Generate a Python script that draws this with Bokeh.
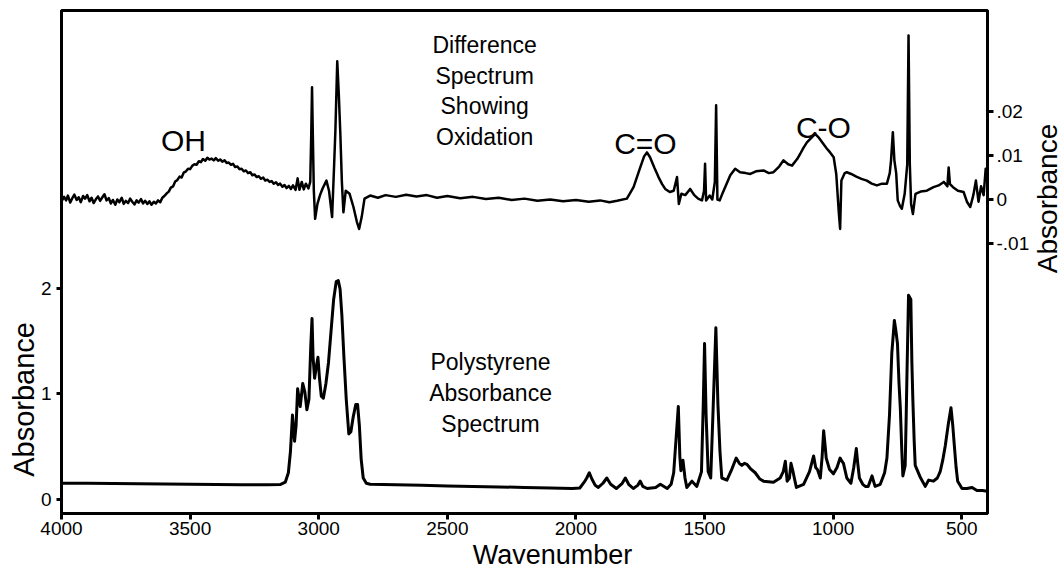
from bokeh.plotting import figure
from bokeh.models import Range1d, LinearAxis, FixedTicker, CustomJSTickFormatter, Label
from bokeh.embed import file_html
from bokeh.resources import INLINE
import math

# ---- data ----
poly_wn = [4000, 3900, 3800, 3700, 3600, 3500, 3400, 3300, 3200, 3150, 3130, 3118, 3110, 3102, 3094,
           3088, 3082, 3072, 3062, 3054, 3046, 3038, 3031, 3026, 3022, 3016, 3010, 3003, 2997, 2990,
           2982, 2972, 2962, 2952, 2942, 2932, 2924, 2917, 2910, 2902, 2893, 2883, 2875, 2866, 2856,
           2849, 2842, 2835, 2827, 2815, 2800, 2700, 2600, 2500, 2400, 2300, 2200, 2100, 2014, 1985,
           1968, 1958, 1948, 1938, 1925, 1913, 1895, 1880, 1865, 1843, 1820, 1808, 1795, 1777, 1760,
           1750, 1740, 1723, 1690, 1672, 1645, 1630, 1620, 1610, 1602, 1596, 1592, 1584, 1576, 1569,
           1549, 1530, 1512, 1505, 1500, 1494, 1486, 1476, 1466, 1456, 1448, 1440, 1433, 1413, 1393,
           1377, 1365, 1355, 1345, 1335, 1322, 1303, 1285, 1271, 1232, 1206, 1194, 1186, 1179, 1170,
           1164, 1156, 1151, 1143, 1115, 1092, 1076, 1068, 1061, 1050, 1043, 1037, 1031, 1027, 1014,
           999, 985, 973, 966, 960, 947, 931, 920, 910, 904, 898, 885, 875, 864, 849,
           842, 837, 817, 800, 791, 781, 772, 762, 756, 750, 744, 739, 733, 729, 720,
           716, 713, 707, 698, 694, 690, 685, 681, 662, 642, 629, 610, 595, 584, 574,
           564, 552, 542, 535, 529, 522, 516, 499, 480, 460, 441, 420, 400]
poly_abs = [0.15, 0.15, 0.148, 0.145, 0.142, 0.14, 0.138, 0.136, 0.135, 0.138, 0.16, 0.25, 0.45, 0.8, 0.55,
            0.7, 1.05, 0.88, 1.1, 1.02, 0.85, 0.95, 1.45, 1.72, 1.35, 1.15, 1.25, 1.35, 1.15, 0.98,
            0.96, 1.1, 1.3, 1.6, 1.9, 2.07, 2.08, 2.0, 1.75, 1.35, 0.95, 0.62, 0.64, 0.78, 0.9,
            0.9, 0.7, 0.38, 0.2, 0.15, 0.14, 0.135, 0.13, 0.125, 0.12, 0.115, 0.11, 0.105, 0.1, 0.105,
            0.16, 0.2, 0.25, 0.19, 0.13, 0.11, 0.15, 0.2, 0.14, 0.1, 0.15, 0.2, 0.14, 0.1, 0.13,
            0.17, 0.12, 0.1, 0.11, 0.14, 0.1, 0.14, 0.25, 0.6, 0.88, 0.4, 0.27, 0.37, 0.2, 0.11,
            0.17, 0.12, 0.26, 0.9, 1.48, 0.8, 0.26, 0.2, 0.91, 1.63, 0.9, 0.45, 0.2, 0.18, 0.29,
            0.39, 0.34, 0.32, 0.34, 0.33, 0.29, 0.25, 0.19, 0.17, 0.16, 0.2, 0.26, 0.36, 0.17, 0.2,
            0.34, 0.26, 0.2, 0.11, 0.14, 0.26, 0.41, 0.3, 0.28, 0.2, 0.4, 0.65, 0.5, 0.39, 0.28,
            0.24, 0.3, 0.39, 0.36, 0.34, 0.2, 0.15, 0.3, 0.48, 0.33, 0.2, 0.14, 0.12, 0.12, 0.22,
            0.16, 0.12, 0.14, 0.25, 0.39, 0.8, 1.39, 1.7, 1.6, 1.48, 1.1, 0.87, 0.45, 0.22, 0.32,
            0.8, 1.2, 1.94, 1.9, 1.3, 0.93, 0.55, 0.32, 0.21, 0.12, 0.18, 0.17, 0.2, 0.26, 0.37,
            0.51, 0.72, 0.87, 0.7, 0.51, 0.3, 0.17, 0.1, 0.1, 0.11, 0.08, 0.08, 0.075]

diff_wn = [4000, 3990, 3982, 3975, 3966, 3958, 3950, 3941, 3933, 3925, 3916, 3908, 3900, 3891, 3883,
           3875, 3866, 3858, 3850, 3841, 3833, 3825, 3816, 3808, 3800, 3791, 3783, 3775, 3766, 3758,
           3750, 3741, 3733, 3725, 3716, 3708, 3700, 3691, 3683, 3675, 3666, 3658, 3650, 3641, 3633,
           3625, 3616, 3608, 3600, 3591, 3583, 3575, 3566, 3558, 3550, 3541, 3533, 3525, 3516, 3508,
           3500, 3491, 3483, 3475, 3466, 3458, 3450, 3441, 3433, 3425, 3416, 3408, 3400, 3391, 3383,
           3375, 3366, 3358, 3350, 3341, 3333, 3325, 3316, 3308, 3300, 3291, 3283, 3275, 3266, 3258,
           3250, 3241, 3233, 3225, 3216, 3208, 3200, 3191, 3183, 3175, 3166, 3158, 3150, 3141, 3133,
           3125, 3116, 3108, 3100, 3090,
           3082, 3075, 3066, 3058, 3050, 3040, 3033, 3029, 3026, 3023, 3019, 3014, 3005,
           2995, 2985, 2970, 2960, 2948, 2940, 2935, 2928, 2922, 2916, 2910, 2904, 2895, 2880, 2865,
           2852, 2843, 2833, 2822, 2800, 2770, 2740, 2700, 2660, 2620, 2580, 2540, 2500, 2450, 2400,
           2350, 2300, 2250, 2200, 2150, 2100, 2050, 2000, 1950, 1906, 1870, 1840, 1802, 1776, 1750,
           1735, 1724, 1712, 1695, 1679, 1665, 1653, 1635, 1620, 1607, 1600, 1590, 1575, 1556, 1540,
           1525, 1510, 1502, 1498, 1494, 1480, 1470, 1460, 1455, 1450, 1441, 1433, 1420, 1400, 1381,
           1362, 1340, 1322, 1300, 1271, 1250, 1232, 1210, 1193, 1175, 1160, 1140, 1128, 1115, 1102,
           1085, 1070, 1055, 1040, 1025, 1012, 998, 988, 978, 973, 968, 955, 947, 930, 910,
           890, 869, 850, 830, 810, 791, 780, 775, 768, 762, 755, 749, 740, 733, 722,
           712, 707, 702, 697, 690, 680, 660, 636, 610, 590, 570, 556, 551, 546, 534,
           515, 493, 480, 467, 455, 445, 435, 425, 415, 407, 402, 400]
diff_abs = [-0.0004, 0.0006, -0.0002, 0.0009, -0.0007, 0.0003, 0.0011, -0.0001, 0.0005, -0.0006, 0.0008, 0.0002, 0.001, -0.0004, 0.0004,
            -0.0008, 0.0001, 0.0007, -0.0003, 0.0005, 0.0012, -0.0002, 0.0003, -0.0009, -0.0001, -0.0012, 0.0, -0.0006, 0.0004, -0.001,
            -0.0003, -0.0008, 0.0002, -0.0005, -0.0011, -0.0002, -0.0007, 0.0001, -0.0009, -0.0003, -0.001, -0.0004, -0.0012, -0.0005, -0.0009,
            -0.0002, -0.0006, 0.0004, 0.0008, 0.0014, 0.0018, 0.0027, 0.003, 0.0041, 0.0044, 0.0052, 0.005, 0.0061, 0.0064, 0.007,
            0.0069, 0.0077, 0.008, 0.0079, 0.0087, 0.0085, 0.0092, 0.0088, 0.0095, 0.0091, 0.0093, 0.0089, 0.0094, 0.0088, 0.0091,
            0.0086, 0.0089, 0.0083, 0.0084, 0.0079, 0.0081, 0.0074, 0.0075, 0.0069, 0.007, 0.0064, 0.0066, 0.006, 0.0062, 0.0055,
            0.0057, 0.0051, 0.0053, 0.0047, 0.005, 0.0043, 0.0045, 0.004, 0.0042, 0.0036, 0.0039, 0.0033, 0.0036, 0.0029, 0.0033,
            0.0026, 0.0031, 0.0024, 0.0032, 0.0022,
            0.0048, 0.0022, 0.004, 0.0023, 0.0036, 0.0025, 0.004, 0.015, 0.0255, 0.015, 0.002, -0.0044, -0.001,
            0.001, 0.0025, 0.0043, 0.002, -0.004, 0.008, 0.016, 0.0314, 0.024, 0.015, 0.004, -0.0029, 0.002, 0.0013, -0.0017,
            -0.005, -0.0067, -0.004, 0.0002, 0.0009, 0.0004, 0.001, 0.0006, 0.0011, 0.0007, 0.001, 0.0004, 0.0008, 0.0003, 0.0006,
            0.0001, 0.0004, -0.0001, 0.0002, -0.0003, 0.0, -0.0004, -0.0001, -0.0005, -0.0002, -0.0006, -0.0003, 0.0002, 0.0028, 0.0073,
            0.0098, 0.0107, 0.0096, 0.0072, 0.0051, 0.0035, 0.0024, 0.0017, 0.002, 0.0051, -0.001, 0.0013, 0.001, 0.0024, 0.001,
            0.0002, -0.0002, 0.002, 0.0081, -0.0002, 0.0009, 0.0, 0.004, 0.0214, 0.0, -0.0002, 0.001, 0.0028, 0.0055, 0.007,
            0.0062, 0.006, 0.0058, 0.0064, 0.0066, 0.006, 0.0062, 0.0075, 0.0089, 0.008, 0.0077, 0.0092, 0.0104, 0.0118, 0.013,
            0.014, 0.0149, 0.014, 0.0128, 0.0116, 0.0107, 0.0096, 0.0058, -0.003, -0.0067, 0.0043, 0.006, 0.0062, 0.0058, 0.0052,
            0.0047, 0.0043, 0.0036, 0.0032, 0.0036, 0.0036, 0.006, 0.0089, 0.0153, 0.0089, 0.006, -0.0002, -0.0015, -0.0021, 0.0013,
            0.008, 0.0373, 0.008, -0.001, -0.0033, 0.0013, 0.0018, 0.002, 0.0028, 0.0032, 0.004, 0.003, 0.0073, 0.0035, 0.0028,
            0.002, 0.0017, -0.0005, -0.0017, 0.001, 0.0043, -0.0005, 0.003, 0.001, 0.007, 0.0045, 0.008]

x_ticks = [4000, 3500, 3000, 2500, 2000, 1500, 1000, 500]
left_ticks = [0, 1, 2]
right_ticks = [-0.01, 0, 0.01, 0.02]

FONT = "Liberation Sans"

p = figure(width=1063, height=571, output_backend="svg", toolbar_location=None, title=None,
           x_range=Range1d(4000, 400), y_range=Range1d(-0.138, 4.652),
           min_border_left=61, min_border_right=76, min_border_top=10, min_border_bottom=58)
p.extra_y_ranges = {"diff": Range1d(-0.07136, 0.042955)}
p.xgrid.visible = False
p.ygrid.visible = False
p.outline_line_color = "black"
p.outline_line_width = 3
p.outline_line_alpha = 1.0
p.background_fill_color = "white"
p.border_fill_color = "white"


def style(ax):
    ax.axis_line_width = 3
    ax.axis_line_color = "black"
    ax.major_tick_line_width = 3
    ax.major_tick_line_color = "black"
    ax.minor_tick_line_color = None
    ax.major_tick_in = 0
    ax.major_label_text_font = FONT
    ax.major_label_text_font_size = "19px"
    ax.major_label_text_color = "black"


xa = p.xaxis[0]
style(xa)
xa.ticker = FixedTicker(ticks=x_ticks)
xa.major_tick_out = 6
xa.major_label_standoff = 2

ya = p.yaxis[0]
style(ya)
ya.ticker = FixedTicker(ticks=left_ticks)
ya.major_tick_out = 5
ya.major_label_standoff = 5

ra = LinearAxis(y_range_name="diff", ticker=FixedTicker(ticks=right_ticks),
                formatter=CustomJSTickFormatter(code="""
                    if (tick == 0) { return '0'; }
                    var s = Math.abs(tick).toFixed(2).replace(/^0/, '');
                    return (tick < 0 ? '-' : '') + s;
                """))
style(ra)
ra.major_tick_out = 6
ra.major_label_standoff = 3
p.add_layout(ra, "right")

p.line(poly_wn, poly_abs, line_color="black", line_width=3, line_join="round")
p.line(diff_wn, diff_abs, y_range_name="diff", line_color="black", line_width=2.5, line_join="round")


def lab(text, x, y, size, angle=0.0, place="center"):
    l = Label(x=x, y=y, text=text, text_font=FONT, text_font_size=size,
              text_color="black", text_align="center", text_baseline="middle",
              angle=angle)
    if place == "center":
        p.add_layout(l)
    else:
        p.add_layout(l, place)


lab("OH", 3526, 3.414, "30px")
lab("C=O", 1730, 3.386, "30px")
lab("C-O", 1038, 3.538, "30px")
for t, yy in [("Difference", 4.319), ("Spectrum", 4.033), ("Showing", 3.738), ("Oxidation", 3.443)]:
    lab(t, 2355, yy, "23px")
for t, yy in [("Polystyrene", 1.30), ("Absorbance", 1.005), ("Spectrum", 0.719)]:
    lab(t, 2332, yy, "23px")
# axis titles, placed in the side panels so that the frame does not clip them
lab("Wavenumber", 2091, -0.529, "27px", place="below")
lab("Absorbance", 4146, 0.948, "29px", angle=math.pi / 2, place="left")
lab("Absorbance", 167, 2.862, "28px", angle=math.pi / 2, place="right")

open("out.html", "w").write(file_html(p, INLINE))
